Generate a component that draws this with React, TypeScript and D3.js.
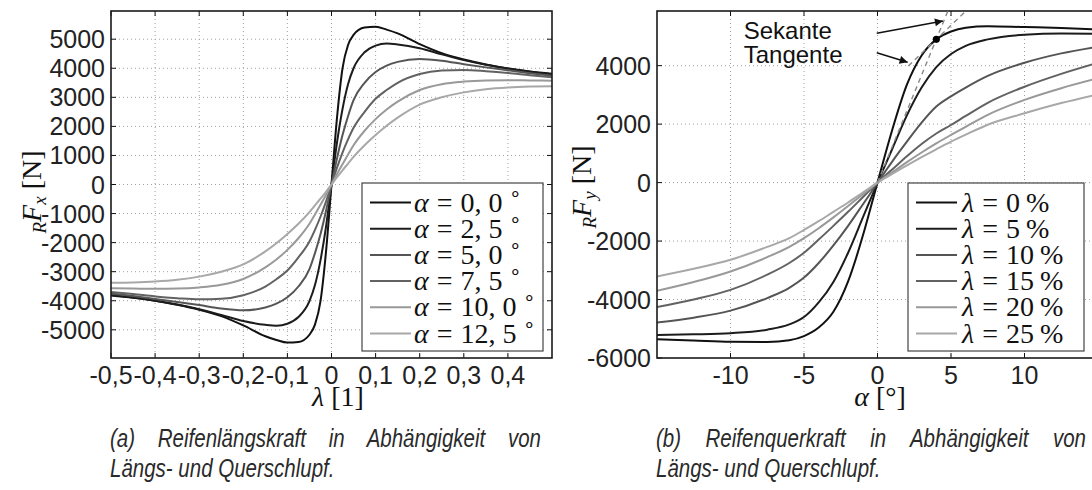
import React, { useEffect, useRef } from "react";
import * as d3 from "d3";

const W = 1092;
const H = 490;

// ---- left panel: longitudinal force over slip lambda ----
const slipValues = [-0.5, -0.45, -0.4, -0.35, -0.3, -0.25, -0.2, -0.15, -0.125, -0.1, -0.075, -0.05, -0.0375, -0.025, -0.0125, 0,
  0.0125, 0.025, 0.0375, 0.05, 0.075, 0.1, 0.125, 0.15, 0.2, 0.25, 0.3, 0.35, 0.4, 0.45, 0.5];

const fxAlpha00 = [-3820, -3900, -4000, -4140, -4310, -4530, -4850, -5220, -5350, -5440, -5420, -5170, -4820, -4020, -2320, 0,
  2300, 4000, 4800, 5150, 5400, 5430, 5330, 5200, 4830, 4520, 4300, 4130, 3990, 3890, 3810];
const fxAlpha25 = [-3800, -3890, -4000, -4130, -4290, -4490, -4700, -4830, -4860, -4790, -4560, -4010, -3460, -2610, -1460, 0,
  1450, 2600, 3450, 4000, 4550, 4780, 4850, 4820, 4690, 4480, 4280, 4120, 3990, 3880, 3790];
const fxAlpha50 = [-3750, -3840, -3940, -4040, -4150, -4270, -4330, -4230, -4100, -3880, -3510, -2910, -2360, -1710, -910, 0,
  900, 1700, 2350, 2900, 3500, 3870, 4090, 4220, 4320, 4260, 4140, 4030, 3930, 3830, 3740];
const fxAlpha75 = [-3700, -3770, -3850, -3910, -3950, -3930, -3810, -3510, -3260, -2960, -2510, -1960, -1560, -1110, -590, 0,
  580, 1100, 1550, 1950, 2500, 2950, 3250, 3500, 3800, 3920, 3940, 3900, 3840, 3760, 3690];
const fxAlpha100 = [-3570, -3580, -3590, -3580, -3540, -3450, -3250, -2850, -2580, -2250, -1850, -1350, -1030, -700, -360, 0,
  360, 700, 1030, 1350, 1850, 2250, 2580, 2850, 3250, 3450, 3540, 3580, 3590, 3580, 3570];
const fxAlpha125 = [-3380, -3370, -3340, -3280, -3170, -3000, -2750, -2300, -2020, -1700, -1350, -950, -720, -490, -250, 0,
  250, 490, 720, 950, 1350, 1700, 2020, 2300, 2750, 3000, 3170, 3280, 3340, 3370, 3380];

const alphaLabels = ["0, 0", "2, 5", "5, 0", "7, 5", "10, 0", "12, 5"];

// ---- right panel: lateral force over slip angle alpha ----
const angleValues = [-15, -12.5, -10, -7.5, -6, -5, -4, -3, -2, -1, -0.5, 0, 0.5, 1, 2, 3, 4, 5, 6, 7.5, 10, 12.5, 15];

const fyLambda0 = [-5360, -5400, -5440, -5450, -5390, -5250, -4960, -4420, -3380, -1820, -920, 0,
  920, 1800, 3350, 4350, 4900, 5170, 5300, 5350, 5320, 5290, 5240];
const fyLambda5 = [-5210, -5190, -5150, -5030, -4850, -4600, -4100, -3400, -2400, -1200, -600, 0,
  570, 1150, 2300, 3250, 3950, 4400, 4680, 4900, 5060, 5100, 5090];
const fyLambda10 = [-4790, -4620, -4380, -3950, -3600, -3250, -2750, -2150, -1480, -750, -380, 0,
  360, 720, 1400, 2050, 2600, 2950, 3250, 3650, 4100, 4420, 4650];
const fyLambda15 = [-4260, -4000, -3670, -3150, -2750, -2400, -1950, -1480, -1000, -500, -250, 0,
  230, 450, 900, 1320, 1680, 1970, 2280, 2730, 3280, 3720, 4100];
const fyLambda20 = [-3700, -3400, -3040, -2550, -2200, -1900, -1560, -1190, -800, -400, -200, 0,
  180, 350, 700, 1030, 1340, 1630, 1910, 2320, 2830, 3230, 3570];
const fyLambda25 = [-3210, -2950, -2640, -2200, -1900, -1620, -1320, -1000, -680, -340, -170, 0,
  150, 300, 590, 870, 1140, 1400, 1640, 1980, 2370, 2720, 3020];

const lambdaLabels = ["0", "5", "10", "15", "20", "25"];

const lineColors = ["#111111", "#1c1c1c", "#555555", "#626262", "#999999", "#a8a8a8"];

// ticks
const xTicksLeft = [-0.5, -0.4, -0.3, -0.2, -0.1, 0, 0.1, 0.2, 0.3, 0.4];
const yTicksLeft = [-5000, -4000, -3000, -2000, -1000, 0, 1000, 2000, 3000, 4000, 5000];
const xTicksRight = [-10, -5, 0, 5, 10];
const yTicksRight = [-6000, -4000, -2000, 0, 2000, 4000];

// annotation (right panel, data units)
const secantDot = [4, 4900];
const secantLine = [[0, 0], [4.78, 5860]];
const tangentLine = [[2.1, 3990], [6.0, 5860]];
const secantArrow = [[-0.05, 5110], [4.45, 5530]];
const tangentArrow = [[-0.05, 4440], [2.05, 4120]];
const annoLabels = [{ text: "Sekante", a: -9.1, f: 4910 }, { text: "Tangente", a: -9.1, f: 4105 }];

const captions = [
  { line1: "(a) Reifenlängskraft in Abhängigkeit von", line2: "Längs- und Querschlupf.", x0: 110, x1: 541 },
  { line1: "(b) Reifenquerkraft in Abhängigkeit von", line2: "Längs- und Querschlupf.", x0: 656, x1: 1086 },
];

const SANS = "'Liberation Sans', Arial, sans-serif";
const SERIF = "'Liberation Serif', 'Times New Roman', serif";

export default function App() {
  const ref = useRef<SVGSVGElement>(null);

  useEffect(() => {
    const svg = d3.select(ref.current);
    svg.selectAll("*").remove();

    svg.append("rect").attr("width", W).attr("height", H).attr("fill", "#fff");

    const defs = svg.append("defs");
    defs.append("marker")
      .attr("id", "arrowhead")
      .attr("viewBox", "0 0 10 10")
      .attr("refX", 10).attr("refY", 5)
      .attr("markerWidth", 12).attr("markerHeight", 8)
      .attr("markerUnits", "userSpaceOnUse")
      .attr("orient", "auto")
      .append("path").attr("d", "M0,0 L10,5 L0,10 z").attr("fill", "#111");

    const top = 11, bottom = 358;

    const panel = (id, x, y, xTicks, yTicks, xFmt, yFmt, xs, series, legendWho, legendVals, legendUnit, legendBox) => {
      const g = svg.append("g");
      const [x0, x1] = x.range();

      defs.append("clipPath").attr("id", id)
        .append("rect").attr("x", x0).attr("y", top).attr("width", x1 - x0).attr("height", bottom - top);

      //dotted grid
      g.selectAll(".gx").data(xTicks.filter(d => x(d) > x0 + 1)).join("line")
        .attr("x1", d => x(d)).attr("x2", d => x(d)).attr("y1", top).attr("y2", bottom)
        .attr("stroke", "#a0a0a0").attr("stroke-dasharray", "1,3");
      g.selectAll(".gy").data(yTicks.filter(d => y(d) < bottom - 1)).join("line")
        .attr("x1", x0).attr("x2", x1).attr("y1", d => y(d)).attr("y2", d => y(d))
        .attr("stroke", "#a0a0a0").attr("stroke-dasharray", "1,3");

      //inward ticks on all four sides
      const tk = 5;
      xTicks.forEach(d => {
        g.append("line").attr("x1", x(d)).attr("x2", x(d)).attr("y1", bottom).attr("y2", bottom - tk).attr("stroke", "#111");
        g.append("line").attr("x1", x(d)).attr("x2", x(d)).attr("y1", top).attr("y2", top + tk).attr("stroke", "#111");
      });
      yTicks.forEach(d => {
        g.append("line").attr("x1", x0).attr("x2", x0 + tk).attr("y1", y(d)).attr("y2", y(d)).attr("stroke", "#111");
        g.append("line").attr("x1", x1).attr("x2", x1 - tk).attr("y1", y(d)).attr("y2", y(d)).attr("stroke", "#111");
      });

      //tick labels
      g.selectAll(".xl").data(xTicks).join("text")
        .attr("x", d => x(d)).attr("y", 384)
        .attr("text-anchor", "middle")
        .attr("font-family", SANS).attr("font-size", 25).attr("fill", "#222")
        .text(xFmt);
      g.selectAll(".yl").data(yTicks).join("text")
        .attr("x", x0 - 6).attr("y", d => y(d) + 9)
        .attr("text-anchor", "end")
        .attr("font-family", SANS).attr("font-size", 25).attr("fill", "#222")
        .text(yFmt);

      //curves
      const line = d3.line().x(d => x(d[0])).y(d => y(d[1])).curve(d3.curveMonotoneX);
      const cg = g.append("g").attr("clip-path", `url(#${id})`);
      series.forEach((vals, i) => {
        cg.append("path")
          .attr("d", line(xs.map((v, j) => [v, vals[j]])))
          .attr("fill", "none").attr("stroke", lineColors[i]).attr("stroke-width", 2);
      });

      //box
      g.append("rect").attr("x", x0).attr("y", top).attr("width", x1 - x0).attr("height", bottom - top)
        .attr("fill", "none").attr("stroke", "#1a1a1a").attr("stroke-width", 1.6);

      //legend
      const lg = g.append("g");
      lg.append("rect").attr("x", legendBox.x).attr("y", legendBox.y).attr("width", legendBox.w).attr("height", legendBox.h)
        .attr("fill", "#fff").attr("stroke", "#444").attr("stroke-width", 1.2);
      legendVals.forEach((lab, i) => {
        const cy = legendBox.y + 19.5 + i * 26.2;
        lg.append("line").attr("x1", legendBox.x + 8).attr("x2", legendBox.x + 49)
          .attr("y1", cy).attr("y2", cy).attr("stroke", lineColors[i]).attr("stroke-width", 2);
        const t = lg.append("text").attr("x", legendBox.x + legendBox.tx).attr("y", cy + 9)
          .attr("font-family", SERIF).attr("font-size", 28).attr("fill", "#111");
        t.append("tspan").attr("font-style", "italic").text(legendWho);
        t.append("tspan").attr("dx", 8).text("=");
        t.append("tspan").attr("dx", 8).text(lab);
        if (legendUnit === "deg") {
          t.append("tspan").attr("dx", 6).attr("dy", -11).attr("font-size", 20).text("∘");
        } else {
          t.append("tspan").attr("dx", 6).text("%");
        }
      });
      return g;
    };

    const xL = d3.scaleLinear().domain([-0.5, 0.5]).range([111, 552]);
    const yL = d3.scaleLinear().domain([-5970, 5970]).range([bottom, top]);
    const xR = d3.scaleLinear().domain([-15, 15]).range([657, 1098]);
    const yR = d3.scaleLinear().domain([-6000, 5870]).range([bottom, top]);

    const commaFmt = d => (d === 0 ? "0" : d3.format(".1f")(d).replace(".", ",").replace("−", "-"));
    const plainFmt = d => String(d);

    panel("clipL", xL, yL, xTicksLeft, yTicksLeft, commaFmt, plainFmt, slipValues,
      [fxAlpha00, fxAlpha25, fxAlpha50, fxAlpha75, fxAlpha100, fxAlpha125],
      "α", alphaLabels, "deg", { x: 362, y: 183, w: 181, h: 168, tx: 52 });

    panel("clipR", xR, yR, xTicksRight, yTicksRight, plainFmt, plainFmt, angleValues,
      [fyLambda0, fyLambda5, fyLambda10, fyLambda15, fyLambda20, fyLambda25],
      "λ", lambdaLabels, "pct", { x: 908, y: 183, w: 176, h: 168, tx: 54 });

    //annotation: secant and tangent
    const ag = svg.append("g").attr("clip-path", "url(#clipR)");
    const straight = d3.line().x(d => xR(d[0])).y(d => yR(d[1]));
    ag.append("path").attr("d", straight(secantLine)).attr("fill", "none")
      .attr("stroke", "#888").attr("stroke-width", 1.4).attr("stroke-dasharray", "5,4");
    ag.append("path").attr("d", straight(tangentLine)).attr("fill", "none")
      .attr("stroke", "#888").attr("stroke-width", 1.4).attr("stroke-dasharray", "5,4");
    ag.append("circle").attr("cx", xR(secantDot[0])).attr("cy", yR(secantDot[1])).attr("r", 3.6).attr("fill", "#000");
    [secantArrow, tangentArrow].forEach(a => {
      svg.append("path").attr("d", straight(a)).attr("stroke", "#111").attr("stroke-width", 1.5)
        .attr("fill", "none").attr("marker-end", "url(#arrowhead)");
    });
    annoLabels.forEach(l => {
      svg.append("text").attr("x", xR(l.a)).attr("y", yR(l.f))
        .attr("font-family", SANS).attr("font-size", 24).attr("fill", "#111").text(l.text);
    });

    //axis labels
    const xLab = (cx, greek, rest) => {
      const t = svg.append("text").attr("x", cx).attr("y", 406).attr("text-anchor", "middle")
        .attr("font-family", SERIF).attr("font-size", 28).attr("fill", "#111");
      t.append("tspan").attr("font-style", "italic").text(greek);
      t.append("tspan").text(" " + rest);
    };
    xLab(338, "λ", "[1]");
    xLab(880, "α", "[°]");

    const yLab = (cx, cy, sub) => {
      const t = svg.append("text").attr("transform", `translate(${cx},${cy}) rotate(-90)`)
        .attr("text-anchor", "middle").attr("font-family", SERIF).attr("font-size", 28).attr("fill", "#111");
      t.append("tspan").attr("font-style", "italic").attr("font-size", 19).attr("dy", 5).text("R");
      t.append("tspan").attr("font-style", "italic").attr("dy", -5).text("F");
      t.append("tspan").attr("font-style", "italic").attr("font-size", 19).attr("dy", 5).text(sub);
      t.append("tspan").attr("dy", -5).text("  [N]");
    };
    yLab(41, 192, "x");
    yLab(591, 187, "y");

    //captions in a condensed look: first line justified
    const squeeze = 0.82;
    captions.forEach(c => {
      const t1 = svg.append("text").attr("transform", `translate(${c.x0},447) scale(${squeeze},1)`)
        .attr("font-family", SANS).attr("font-style", "italic").attr("font-size", 25).attr("fill", "#2a2a2a")
        .text(c.line1);
      const natural = (t1.node() as SVGTextElement).getComputedTextLength();
      const gaps = c.line1.split(" ").length - 1;
      t1.attr("word-spacing", Math.max(0, ((c.x1 - c.x0) / squeeze - natural) / gaps));
      svg.append("text").attr("transform", `translate(${c.x0},477) scale(${squeeze},1)`)
        .attr("font-family", SANS).attr("font-style", "italic").attr("font-size", 25).attr("fill", "#2a2a2a")
        .text(c.line2);
    });
  }, []);

  return (
    <svg ref={ref} width={W} height={H} style={{ position: "absolute", left: 0, top: 0, display: "block" }} />
  );
}
